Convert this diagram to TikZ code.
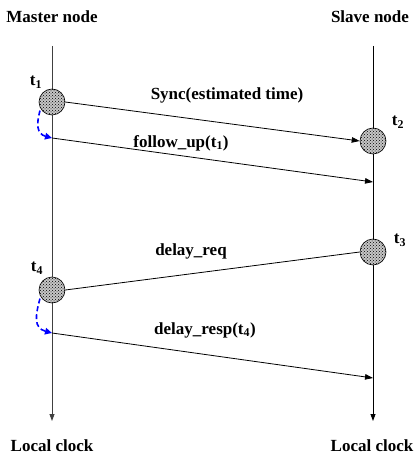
\documentclass[tikz,border=0pt]{standalone}
\usepackage{fontspec}
\setmainfont{Liberation Serif}
\usetikzlibrary{arrows.meta,patterns}
\begin{document}
\begin{tikzpicture}[x=1pt,y=-1pt,
  lbl/.style={font=\fontsize{17}{19}\selectfont\bfseries, inner sep=0pt},
  ts/.style={circle, draw=black, line width=0.6pt, minimum size=26pt, inner sep=0pt,
    fill=gray!45, postaction={pattern=crosshatch dots, pattern color=black}},
  timeline/.style={line width=0.8pt, -{Triangle[length=7pt,width=5pt]}},
  msg/.style={line width=0.8pt, -{Triangle[length=8pt,width=5.5pt]}},
  plainmsg/.style={line width=0.8pt},
  delayarc/.style={blue, line width=1.6pt, dash pattern=on 5pt off 3pt,
    -{Triangle[length=7pt,width=6.5pt]}}]
\useasboundingbox (0,0) rectangle (413,454);

% time lines
\coordinate (mtop) at (52,46);
\coordinate (mbot) at (52,421);
\coordinate (stop) at (373,46);
\coordinate (sbot) at (373,421);
\draw[timeline, black!75] (mtop) -- (mbot);
\draw[timeline] (stop) -- (sbot);

% timestamp circles
\node[ts] (c1) at (52,102) {};
\node[ts] (c2) at (373,141) {};
\node[ts] (c3) at (373,252) {};
\node[ts] (c4) at (52,290) {};

% free ends on the time lines
\coordinate (f1) at (52,138);
\coordinate (f2) at (373,182);
\coordinate (r1) at (52,333);
\coordinate (r2) at (373,378);

% messages
\draw[msg] (c1.east) -- (c2.west);
\draw[msg] (f1) -- (f2);
\draw[plainmsg] (c3.west) -- (c4.east);
\draw[msg] (r1) -- (r2);

% blue dashed delays
\draw[delayarc, shorten <=2pt] (c1.210) to[out=255,in=165,looseness=1.3] (f1);
\draw[delayarc, shorten <=2pt] (c4.210) to[out=255,in=165,looseness=1.3] (r1);

% labels
\node[lbl] (mn) at (52,17) {Master node};
\node[lbl] (sn) at (370,17) {Slave node};
\node[lbl] (lc1) at (52,446) {Local clock};
\node[lbl] (lc2) at (372,446) {Local clock};
\node[lbl] (t1) at (36,82) {t\textsubscript{1}};
\node[lbl] (t2) at (398,122) {t\textsubscript{2}};
\node[lbl] (t3) at (400,240) {t\textsubscript{3}};
\node[lbl] (t4) at (37,268) {t\textsubscript{4}};
\node[lbl] (l1) at (227,95) {Sync(estimated time)};
\node[lbl] (l2) at (181,143) {follow\_up(t\textsubscript{1})};
\node[lbl] (l3) at (191,251) {delay\_req};
\node[lbl] (l4) at (205,330) {delay\_resp(t\textsubscript{4})};
\end{tikzpicture}
\end{document}
